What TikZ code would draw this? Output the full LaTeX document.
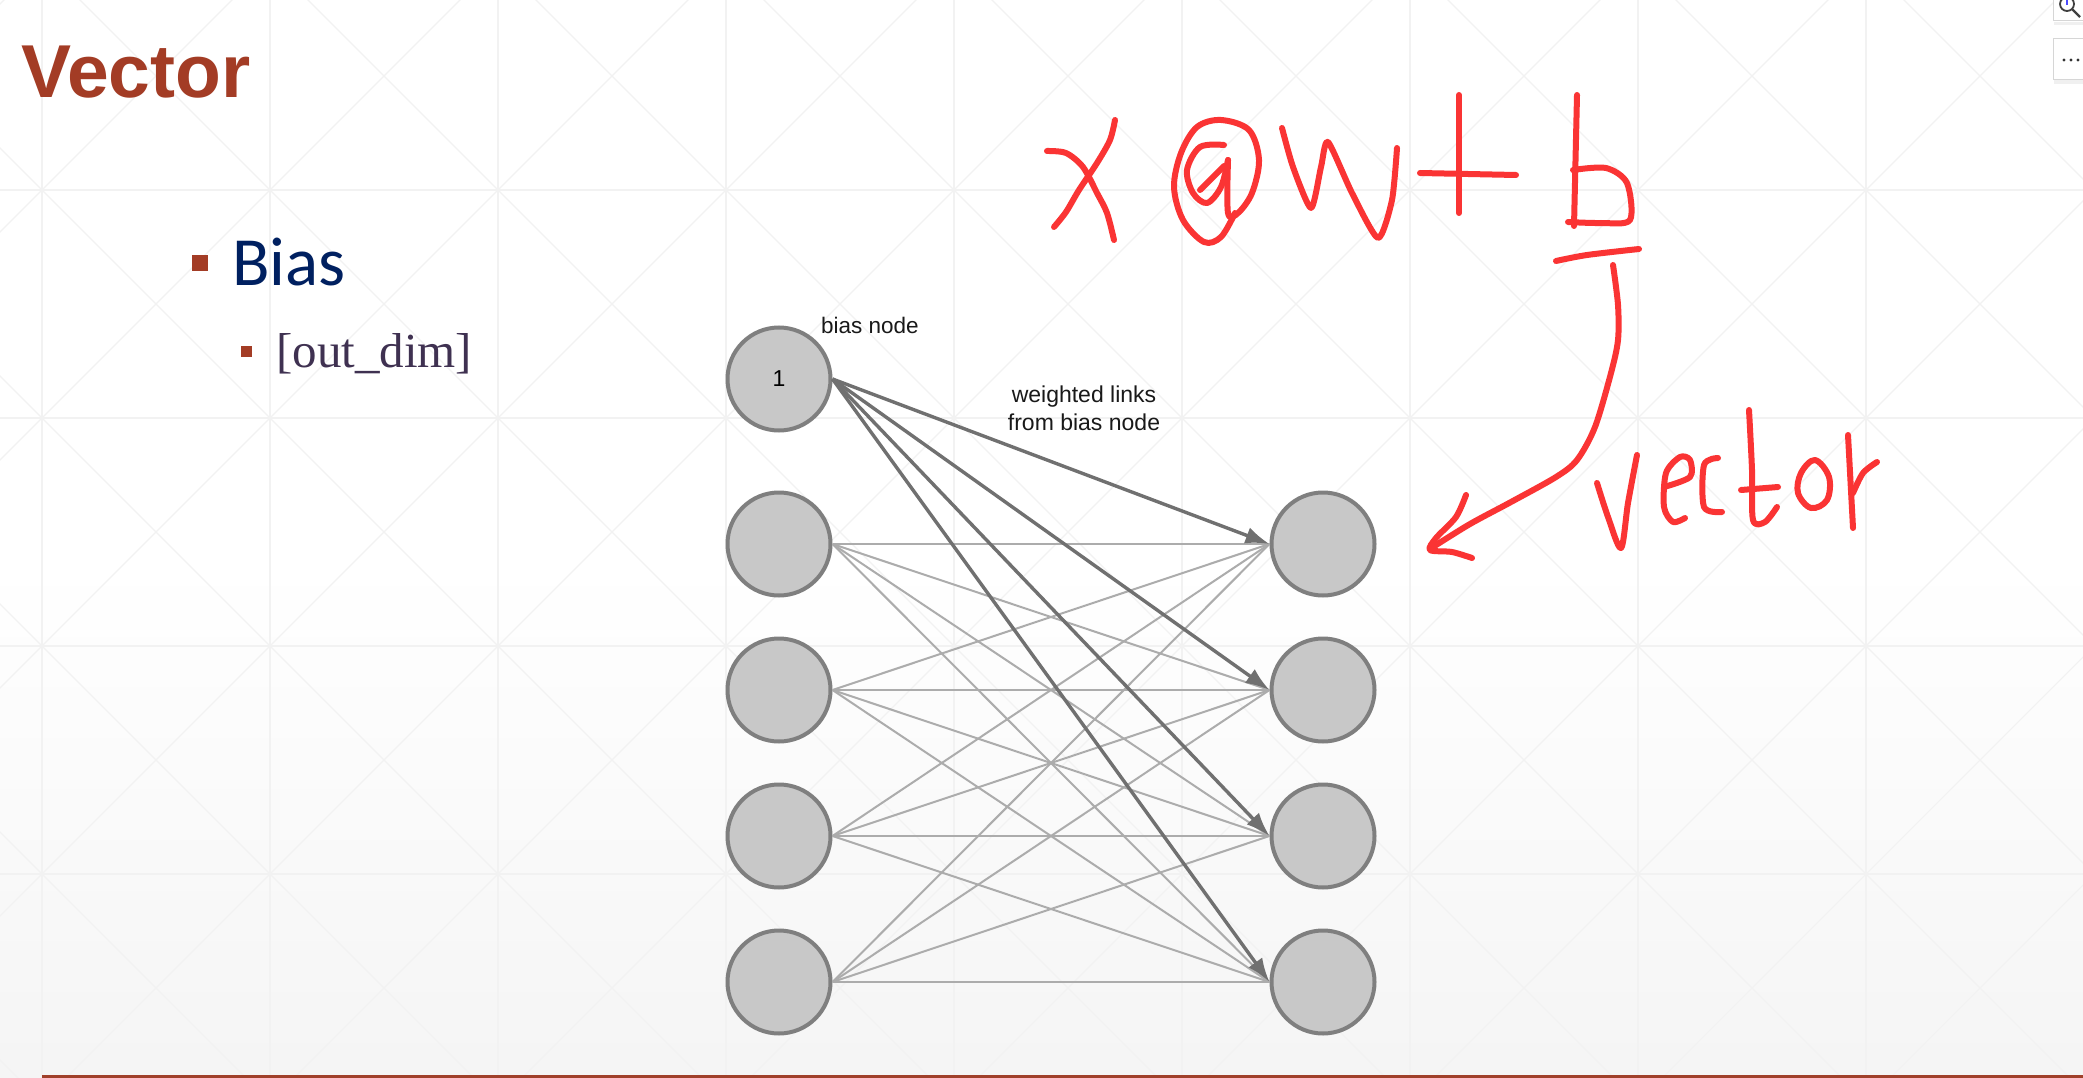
\documentclass[tikz,border=0pt]{standalone}
\usepackage{fontspec}
\setmainfont{Liberation Sans}
\newfontfamily\calibfont{Carlito}
\newfontfamily\brkfont{Liberation Serif}
\usetikzlibrary{arrows.meta}
\definecolor{titlec}{RGB}{163,60,37}
\definecolor{navyc}{RGB}{0,32,96}
\definecolor{subc}{RGB}{63,49,81}
\definecolor{nodefill}{RGB}{200,200,200}
\definecolor{nodeline}{RGB}{127,127,127}
\definecolor{lightedge}{RGB}{172,172,172}
\definecolor{darkedge}{RGB}{112,112,112}
\definecolor{handred}{RGB}{250,52,52}
\definecolor{gridc}{RGB}{242,242,242}
\definecolor{rulec}{RGB}{160,64,42}
\definecolor{uiborder}{RGB}{214,214,214}
\tikzset{
  neuron/.style={circle, fill=nodefill, draw=nodeline, line width=4pt, minimum size=103pt, inner sep=0pt, font=\fontsize{23}{26}\selectfont},
  lightlink/.style={draw=lightedge, line width=2pt},
  biaslink/.style={draw=darkedge, line width=3.4pt, -{Latex[length=24pt,width=17pt]}},
  hand/.style={draw=handred, line width=6pt, line cap=round, line join=round},
  gridline/.style={draw=gridc, line width=1.1pt},
  lbl/.style={inner sep=0pt, text=black!90},
}
\begin{document}
\begin{tikzpicture}[x=1pt, y=-1pt]
\useasboundingbox (0,0) rectangle (2083,1078);
% background
\fill[white] (0,0) rectangle (2083,1078);
\shade[top color=white, bottom color=black!4] (0,560) rectangle (2083,1078);
\begin{scope}
\clip (0,0) rectangle (2083,1078);
\foreach \k in {-1,...,9} \draw[gridline] ({42+228*\k},0) -- ({42+228*\k},1078);
\foreach \k in {0,...,5} \draw[gridline] (0,{-38+228*\k}) -- (2083,{-38+228*\k});
\foreach \m in {-5,...,9} \draw[gridline] ({80+228*\m-100},-100) -- ({80+228*\m+1200},1200);
\foreach \m in {0,...,14} \draw[gridline] ({4+228*\m+100},-100) -- ({4+228*\m-1200},1200);
\end{scope}
% bottom rule
\draw[draw=rulec, line width=3pt] (42,1076.5) -- (2083,1076.5);

% slide text
\node[anchor=base west, inner sep=0pt, text=titlec, font=\bfseries\fontsize{75}{80}\selectfont] (title) at (21,98) {Vector};
\fill[titlec] (192,255) rectangle (208,271);
\node[anchor=base west, inner sep=0pt, text=navyc, font=\calibfont\fontsize{69}{74}\selectfont] (bias) at (232,285) {Bias};
\fill[titlec] (241,346) rectangle (252,357);
\node[anchor=base west, inner sep=0pt, text=subc, font=\brkfont\fontsize{49}{52}\selectfont] (dim) at (276,367) {[out\_dim]};

% network nodes
\node[neuron] (b) at (779,379) {1};
\foreach \i/\y in {1/544,2/690,3/836,4/982} {
  \node[neuron] (l\i) at (779,\y) {};
  \node[neuron] (r\i) at (1323,\y) {};
}
\foreach \i in {1,...,4} \foreach \j in {1,...,4} \draw[lightlink] (l\i.east) -- (r\j.west);
\foreach \j in {1,...,4} \draw[biaslink] (b.east) -- (r\j.west);

\node[lbl, anchor=base west, font=\fontsize{22.5}{26}\selectfont] (bn) at (821,333) {bias node};
\node[lbl, anchor=north, align=center, font=\fontsize{23}{27.5}\selectfont] (wl) at (1084,386) {weighted links\\from bias node};

% handwriting: x @ w + b
\draw[hand] plot[smooth, tension=0.5] coordinates {(1047,151) (1066,153) (1083,167) (1097,193) (1107,213) (1114,240)};
\draw[hand] plot[smooth, tension=0.5] coordinates {(1115,120) (1110,140) (1097,163) (1079,190) (1066,212) (1054,227)};
\draw[hand] plot[smooth, tension=0.55] coordinates {(1224,145) (1200,147) (1187,170) (1193,193) (1207,203) (1221,187) (1228,160)};
\draw[hand] (1200,190) -- (1224,166);
\draw[hand] plot[smooth, tension=0.55] coordinates {(1228,160) (1228,213) (1238,213) (1252,193) (1259,160) (1249,130) (1221,120) (1197,127) (1181,153) (1174,187) (1183,220) (1204,242) (1221,237) (1235,213)};
\draw[hand] plot[smooth, tension=0.4] coordinates {(1282,128) (1293,167) (1311,208) (1321,167) (1328,142) (1352,193) (1378,238) (1392,200) (1397,148)};
\draw[hand] (1459,95) -- (1459,213);
\draw[hand] (1420,173) -- (1516,175);
\draw[hand] (1577,95) -- (1574,226);
\draw[hand] plot[smooth, tension=0.5] coordinates {(1573,170) (1606,168) (1627,183) (1630,220) (1601,223) (1568,222)};
\draw[hand] plot[smooth, tension=0.5] coordinates {(1556,261) (1587,255) (1639,249)};
% curved arrow to the output vector
\coordinate (tip) at (1433,547);
\draw[hand] plot[smooth, tension=0.5] coordinates {(1613,265) (1618,305) (1618,340) (1611,373) (1595,427) (1577,460) (1556,477) (1511,502) (1470,524) (1433,547)};
\draw[hand] plot[smooth, tension=0.5] coordinates {(1466,495) (1456,517) (1436,538) (1430,550) (1452,552) (1472,558)};
% handwriting: vector
\draw[hand] plot[smooth, tension=0.5] coordinates {(1597,483) (1608,517) (1621,548) (1628,503) (1637,455)};
\draw[hand] plot[smooth, tension=0.5] coordinates {(1664,487) (1690,477) (1690,460) (1680,457) (1666,473) (1664,507) (1673,522) (1685,518)};
\draw[hand] plot[smooth, tension=0.5] coordinates {(1718,458) (1704,465) (1704,507) (1722,512)};
\draw[hand] plot[smooth, tension=0.5] coordinates {(1749,410) (1752,470) (1753,520) (1765,522) (1777,507)};
\draw[hand] (1741,490) -- (1778,487);
\draw[hand] plot[smooth cycle, tension=0.6] coordinates {(1815,460) (1801,473) (1798,493) (1811,508) (1827,500) (1829,477)};
\draw[hand] (1848,435) -- (1853,528);
\draw[hand] plot[smooth, tension=0.5] coordinates {(1853,493) (1863,473) (1877,462)};

% window controls at top right
\fill[black!6] (2054,22) rectangle (2090,25);
\draw[draw=uiborder, fill=white, line width=1pt] (2053,-5) rectangle (2090,21);
\draw[draw=black!75, line width=1.8pt] (2067,4) circle (7);
\draw[draw=black!75, line width=2.2pt] (2072,9) -- (2080,17);
\draw[draw=blue!70, line width=1.2pt] (2067,0) -- (2067,5);
\fill[black!6] (2054,80) rectangle (2090,84);
\draw[draw=uiborder, fill=white, line width=1pt] (2053,39) rectangle (2090,80);
\foreach \dx in {2064,2071,2078} \fill[black!80] (\dx,60) circle (1.6);
\end{tikzpicture}
\end{document}
